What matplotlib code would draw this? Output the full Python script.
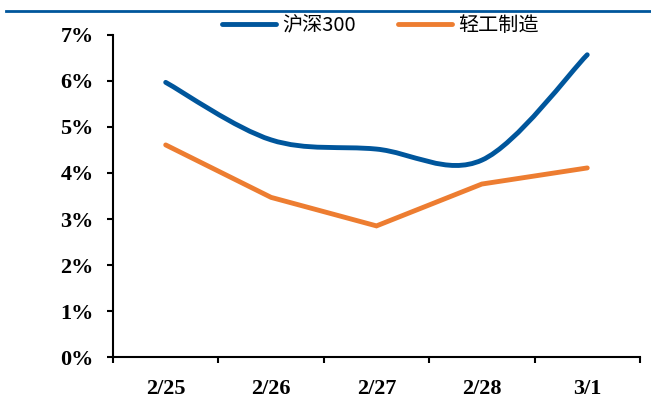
import matplotlib.pyplot as plt
from matplotlib.path import Path
from matplotlib.patches import PathPatch
from matplotlib.lines import Line2D

categories = ['2/25', '2/26', '2/27', '2/28', '3/1']
hs300 = [5.97, 4.72, 4.52, 4.28, 6.57]
light_ind = [4.61, 3.47, 2.85, 3.76, 4.11]
yticks = [0, 1, 2, 3, 4, 5, 6, 7]

BLUE = '#00569c'
ORANGE = '#ed7d31'


def smooth_path(xs, ys):
    """Excel-style smoothed line: Catmull-Rom segments as cubic Beziers."""
    pts = list(zip(xs, ys))
    n = len(pts)
    verts = [pts[0]]
    codes = [Path.MOVETO]
    for i in range(n - 1):
        p0 = pts[i - 1] if i > 0 else pts[i]
        p1 = pts[i]
        p2 = pts[i + 1]
        p3 = pts[i + 2] if i + 2 < n else pts[i + 1]
        c1 = (p1[0] + (p2[0] - p0[0]) / 6, p1[1] + (p2[1] - p0[1]) / 6)
        c2 = (p2[0] - (p3[0] - p1[0]) / 6, p2[1] - (p3[1] - p1[1]) / 6)
        verts += [c1, c2, p2]
        codes += [Path.CURVE4] * 3
    return Path(verts, codes)


fig = plt.figure(figsize=(6.51, 4.05), dpi=100)
ax = fig.add_axes([0.1736, 0.1185, 0.8094, 0.7951])

x = list(range(len(categories)))
ax.add_patch(PathPatch(smooth_path(x, hs300), facecolor='none',
                       edgecolor=BLUE, lw=3.5, capstyle='round', joinstyle='round'))
ax.plot(x, light_ind, color=ORANGE, lw=3.5, solid_capstyle='round',
        solid_joinstyle='miter')

ax.set_xlim(-0.5, len(categories) - 0.5)
ax.set_ylim(0, 7)
ax.set_yticks(yticks)
ax.set_yticklabels([f'{v}%' for v in yticks])
ax.set_xticks([i - 0.5 for i in range(len(categories) + 1)])
ax.set_xticklabels([])
ax.set_xticks(x, minor=True)
ax.set_xticklabels(categories, minor=True)

for s in ['top', 'right']:
    ax.spines[s].set_visible(False)
for s in ['left', 'bottom']:
    ax.spines[s].set_linewidth(1.5)
ax.tick_params(axis='both', which='major', direction='out', length=4, width=1.5)
ax.tick_params(axis='y', pad=10)
ax.tick_params(axis='x', which='minor', length=0, pad=16)
for lab in ax.get_yticklabels() + ax.get_xticklabels(minor=True):
    lab.set_fontfamily('Liberation Serif')
    lab.set_fontweight('bold')
    lab.set_fontsize(16)

handles = [Line2D([], [], color=BLUE, lw=3.5, solid_capstyle='round'),
           Line2D([], [], color=ORANGE, lw=3.5, solid_capstyle='round')]
fig.legend(handles, ['沪深300', '轻工制造'], loc='center', bbox_to_anchor=(0.584, 0.936),
           ncol=2, frameon=False, handlelength=2.7, handletextpad=0.3,
           columnspacing=2.1, borderpad=0,
           prop={'family': ['Noto Sans CJK SC', 'DejaVu Sans'], 'size': 14.5})

# header rule of the source report
fig.add_artist(Line2D([0.009, 1.0], [0.972, 0.972], color=BLUE, lw=2.0,
                      transform=fig.transFigure))

fig.savefig('out.png', dpi=100)
